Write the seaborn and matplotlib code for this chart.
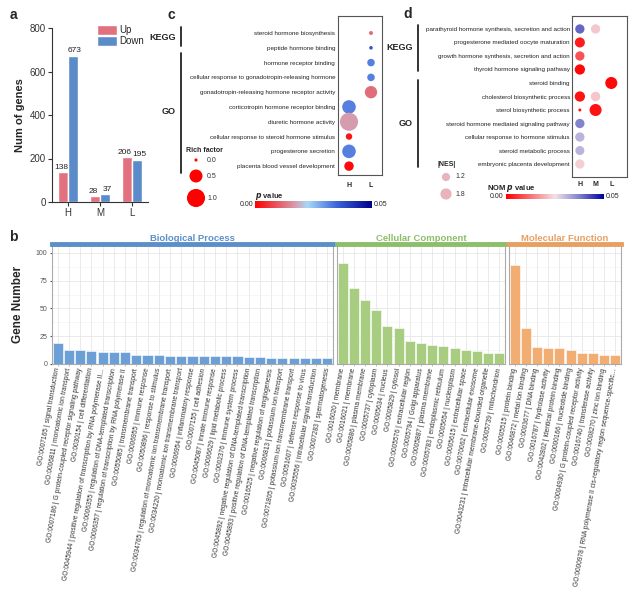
import numpy as np
import pandas as pd
import matplotlib
matplotlib.use("Agg")
import matplotlib.pyplot as plt
import seaborn as sns
from matplotlib.colors import LinearSegmentedColormap, Normalize

W, H = 637, 616

# ---------------- data ----------------
groups = ["H", "M", "L"]
up_counts = [138, 28, 206]
down_counts = [673, 37, 195]

bp_terms = [
    "GO:0007165 | signal transduction",
    "GO:0006811 | monoatomic ion transport",
    "GO:0007186 | G protein-coupled receptor signaling pathway",
    "GO:0030154 | cell differentiation",
    "GO:0045944 | positive regulation of transcription by RNA polymerase II...",
    "GO:0006355 | regulation of DNA-templated transcription",
    "GO:0006357 | regulation of transcription by RNA polymerase II",
    "GO:0055085 | transmembrane transport",
    "GO:0006955 | immune response",
    "GO:0050896 | response to stimulus",
    "GO:0034765 | regulation of monoatomic ion transmembrane transport",
    "GO:0034220 | monoatomic ion transmembrane transport",
    "GO:0006954 | inflammatory response",
    "GO:0007155 | cell adhesion",
    "GO:0045087 | innate immune response",
    "GO:0006629 | lipid metabolic process",
    "GO:0002376 | immune system process",
    "GO:0045892 | negative regulation of DNA-templated transcription",
    "GO:0045893 | positive regulation of DNA-templated transcription",
    "GO:0016525 | negative regulation of angiogenesis",
    "GO:0006813 | potassium ion transport",
    "GO:0071805 | potassium ion transmembrane transport",
    "GO:0051607 | defense response to virus",
    "GO:0035556 | intracellular signal transduction",
    "GO:0007283 | spermatogenesis",
]
bp_counts = [19, 13, 13, 12, 11, 11, 11, 8, 8, 8, 7, 7, 7, 7, 7, 7, 7, 6, 6, 5, 5, 5, 5, 5, 5]

cc_terms = [
    "GO:0016020 | membrane",
    "GO:0016021 | membrane",
    "GO:0005886 | plasma membrane",
    "GO:0005737 | cytoplasm",
    "GO:0005634 | nucleus",
    "GO:0005829 | cytosol",
    "GO:0005576 | extracellular region",
    "GO:0005794 | Golgi apparatus",
    "GO:0005887 | plasma membrane",
    "GO:0005783 | endoplasmic reticulum",
    "GO:0005654 | nucleoplasm",
    "GO:0005615 | extracellular space",
    "GO:0070062 | extracellular exosome",
    "GO:0043231 | intracellular membrane-bounded organelle",
    "GO:0005739 | mitochondrion",
]
cc_counts = [91, 68, 58, 49, 34, 32, 21, 19, 17, 16, 14, 13, 12, 10, 10]

mf_terms = [
    "GO:0005515 | protein binding",
    "GO:0046872 | metal ion binding",
    "GO:0003677 | DNA binding",
    "GO:0016787 | hydrolase activity",
    "GO:0042802 | identical protein binding",
    "GO:0000166 | nucleotide binding",
    "GO:0004930 | G protein-coupled receptor activity",
    "GO:0016740 | transferase activity",
    "GO:0008270 | zinc ion binding",
    "GO:0000978 | RNA polymerase II cis-regulatory region sequence-specific...",
]
mf_counts = [89, 32, 15, 14, 14, 13, 10, 10, 8, 8]

# panel c: enrichment dot plot
c_cols = ["H", "L"]
c_terms = [
    "steroid hormone biosynthesis",
    "peptide hormone binding",
    "hormone receptor binding",
    "cellular response to gonadotropin-releasing hormone",
    "gonadotropin-releasing hormone receptor activity",
    "corticotropin hormone receptor binding",
    "diuretic hormone activity",
    "cellular response to steroid hormone stimulus",
    "progesterone secretion",
    "placenta blood vessel development",
]
c_point_col = ["L", "L", "L", "L", "L", "H", "H", "H", "H", "H"]
c_rich = [0.02, 0.01, 0.15, 0.15, 0.45, 0.55, 1.0, 0.1, 0.55, 0.25]
c_p = [0.012, 0.037, 0.032, 0.032, 0.012, 0.032, 0.017, 0.002, 0.032, 0.001]

# panel d: GSEA dot plot
d_cols = ["H", "M", "L"]
d_terms = [
    "parathyroid hormone synthesis, secretion and action",
    "progesterone mediated oocyte maturation",
    "growth hormone synthesis, secretion and action",
    "thyroid hormone signaling pathway",
    "steroid binding",
    "cholesterol biosynthetic process",
    "sterol biosynthetic process",
    "steroid hormone mediated signaling pathway",
    "cellular response to hormone stimulus",
    "steroid metabolic process",
    "embryonic placenta development",
]
d_point_term = [
    "parathyroid hormone synthesis, secretion and action",
    "parathyroid hormone synthesis, secretion and action",
    "progesterone mediated oocyte maturation",
    "growth hormone synthesis, secretion and action",
    "thyroid hormone signaling pathway",
    "steroid binding",
    "cholesterol biosynthetic process",
    "cholesterol biosynthetic process",
    "sterol biosynthetic process",
    "sterol biosynthetic process",
    "steroid hormone mediated signaling pathway",
    "cellular response to hormone stimulus",
    "steroid metabolic process",
    "embryonic placenta development",
]
d_point_col = ["H", "M", "H", "H", "H", "L", "H", "M", "H", "M", "H", "H", "H", "H"]
d_nes = [1.4, 1.4, 1.55, 1.4, 1.6, 2.0, 1.6, 1.45, 0.6, 2.0, 1.4, 1.4, 1.35, 1.4]
d_p = [0.040, 0.022, 0.003, 0.009, 0.001, 0.001, 0.002, 0.022, 0.002, 0.002, 0.037, 0.031, 0.031, 0.023]

# ---------------- style ----------------
sns.set_style("white")
plt.rcParams["font.family"] = ["Liberation Sans", "DejaVu Sans"]

up_color = "#E2707F"
down_color = "#5B8CC9"
bp_color, bp_strip = "#6B9FD6", "#5B8FC9"
cc_color, cc_strip = "#A8CC80", "#8DBE6A"
mf_color, mf_strip = "#F2AE72", "#E8A062"

cmap_c = LinearSegmentedColormap.from_list(
    "pc", [(0, "#FF0000"), (0.35, "#D4A0B2"), (0.45, "#A8D8F8"), (0.7, "#3C64D8"), (1, "#00008B")])
cmap_d = LinearSegmentedColormap.from_list(
    "pd", [(0, "#FF0000"), (0.5, "#F2E2E8"), (0.75, "#8080CC"), (1, "#0000A0")])
p_norm = Normalize(0, 0.05)

c_sizes, c_snorm = (5, 170), (0, 1)
d_sizes, d_snorm = (4.7, 75), (0.6, 2.0)


def size_of(v, sizes, snorm):
    return sizes[0] + (v - snorm[0]) / (snorm[1] - snorm[0]) * (sizes[1] - sizes[0])


fig = plt.figure(figsize=(W / 100, H / 100), dpi=100)


def px_axes(x0, y0, x1, y1):
    return fig.add_axes([x0 / W, 1 - y1 / H, (x1 - x0) / W, (y1 - y0) / H])


# overlay in pixel coordinates for letters, brackets, legends
ov = fig.add_axes([0, 0, 1, 1])
ov.set_xlim(0, W)
ov.set_ylim(H, 0)
ov.axis("off")

# ---------------- panel a ----------------
ax_a = px_axes(52, 28, 148, 202)
df_a = pd.DataFrame({
    "group": groups * 2,
    "dir": ["Up"] * 3 + ["Down"] * 3,
    "count": up_counts + down_counts,
})
sns.barplot(data=df_a, x="group", y="count", hue="dir", order=groups,
            hue_order=["Up", "Down"], palette=[up_color, down_color],
            width=0.64, saturation=1, ax=ax_a)
for cont, dx in zip(ax_a.containers, [-1.3, 1.3]):
    for ann in ax_a.bar_label(cont, fontsize=6, padding=1, color="#222222"):
        ann.xyann = (dx, 1)
ax_a.set_ylim(0, 800)
ax_a.set_yticks(range(0, 801, 200))
ax_a.set_xlim(-0.5, 2.5)
ax_a.set_xlabel("")
ax_a.set_ylabel("Num of genes", fontsize=8, fontweight="bold", labelpad=3)
ax_a.tick_params(labelsize=7, length=3, width=0.8, direction="out", pad=1.5,
                 left=True, bottom=True, colors="#333333")
for s in ["top", "right"]:
    ax_a.spines[s].set_visible(False)
for s in ["left", "bottom"]:
    ax_a.spines[s].set_color("#333333")
    ax_a.spines[s].set_linewidth(0.8)
ax_a.legend(loc="upper right", frameon=False, fontsize=7, bbox_to_anchor=(1.0, 1.04),
            handlelength=2.0, handleheight=1.2, labelspacing=0.1, borderaxespad=0,
            handletextpad=0.25)

# ---------------- panel b ----------------
facets = [
    ("Biological Process", bp_terms, bp_counts, bp_color, bp_strip, 52, 333),
    ("Cellular Component", cc_terms, cc_counts, cc_color, cc_strip, 337, 505),
    ("Molecular Function", mf_terms, mf_counts, mf_color, mf_strip, 509, 621),
]
for i, (title, terms, counts, col, strip, x0, x1) in enumerate(facets):
    ax = px_axes(x0, 244, x1, 364)
    sns.barplot(x=terms, y=counts, color=col, width=0.9, saturation=1,
                edgecolor="white", linewidth=0.4, ax=ax)
    ax.set_axisbelow(True)
    ax.set_xlim(-0.5, len(terms) - 0.5)
    ax.set_ylim(0, 108)
    ax.set_yticks([0, 25, 50, 75, 100])
    ax.set_yticks([12.5, 37.5, 62.5, 87.5], minor=True)
    ax.grid(True, which="major", color="#E6E6E6", lw=0.6)
    ax.grid(True, which="minor", axis="y", color="#F0F0F0", lw=0.4)
    ax.set_xticks(range(len(terms)))
    ax.set_xticklabels(terms, rotation=80, ha="right", va="center",
                       rotation_mode="anchor", fontsize=4.8, color="#333333")
    ax.tick_params(axis="x", length=1.5, width=0.4, color="#888888", pad=1.5, bottom=True)
    ax.tick_params(axis="y", which="both", length=0)
    if i == 0:
        ax.tick_params(axis="y", labelsize=5, colors="#555555", pad=2, length=1.5, left=True)
        ax.set_ylabel("Gene Number", fontsize=8.5, fontweight="bold", labelpad=8)
    else:
        ax.set_yticklabels([])
        ax.set_ylabel("")
    for s in ["left", "right", "bottom"]:
        ax.spines[s].set_color("#AAAAAA")
        ax.spines[s].set_linewidth(0.8)
    ax.spines["top"].set_color(strip)
    ax.spines["top"].set_linewidth(3.5)
    ax.set_title(title, color=strip, fontsize=6.8, fontweight="bold", pad=2.5)

# ---------------- panel c ----------------
ax_c = px_axes(338, 16, 382, 175)
df_c = pd.DataFrame({
    "x": [c_cols.index(c) for c in c_point_col],
    "y": list(range(len(c_terms))),
    "rich": c_rich,
    "p": c_p,
})
sns.scatterplot(data=df_c, x="x", y="y", hue="p", size="rich", palette=cmap_c,
                hue_norm=p_norm, sizes=c_sizes, size_norm=c_snorm, legend=False,
                edgecolor="none", ax=ax_c)
ax_c.set_xlim(-0.5, 1.5)
ax_c.set_ylim(9.6, -1.15)
ax_c.set_yticks(range(len(c_terms)))
ax_c.set_yticklabels(c_terms, fontsize=4.5, color="#222222")
ax_c.set_xticks(range(len(c_cols)))
ax_c.set_xticklabels(c_cols, fontsize=5, fontweight="bold")
ax_c.tick_params(axis="y", length=0, pad=2)
ax_c.tick_params(axis="x", length=0, pad=5)
ax_c.set_xlabel("")
ax_c.set_ylabel("")
for s in ax_c.spines.values():
    s.set_color("#555555")
    s.set_linewidth(0.8)

cax_c = px_axes(255, 201, 372, 208)
fig.colorbar(plt.cm.ScalarMappable(norm=p_norm, cmap=cmap_c), cax=cax_c, orientation="horizontal")
cax_c.set_xticks([])
cax_c.axis("off")
ov.text(253, 204.5, "0.00", fontsize=5, ha="right", va="center")
ov.text(374, 204.5, "0.05", fontsize=5, ha="left", va="center")
ov.text(255, 196, r"$\mathbfit{p}$ value", fontsize=5.5, fontweight="bold", ha="left", va="center")

# KEGG / GO brackets for c
ov.plot([181, 181], [27, 46], color="#222222", lw=1.3)
ov.plot([181, 181], [53, 173], color="#222222", lw=1.3)
ov.text(176, 37, "KEGG", fontsize=6.5, fontweight="bold", ha="right", va="center")
ov.text(176, 112, "GO", fontsize=6.5, fontweight="bold", ha="right", va="center")

# size legend c
ov.text(204, 150, "Rich factor", fontsize=5, fontweight="bold", ha="center", va="center")
for v, yy in zip([0.0, 0.5, 1.0], [160, 176, 198]):
    ov.scatter([196], [yy], s=size_of(v, c_sizes, c_snorm), color="#FF0000", edgecolor="none")
    ov.text(207, yy, f"{v:.1f}", fontsize=5, ha="left", va="center", color="#333333")

# ---------------- panel d ----------------
ax_d = px_axes(572, 16, 627, 177)
df_d = pd.DataFrame({
    "x": [d_cols.index(c) for c in d_point_col],
    "y": [d_terms.index(t) for t in d_point_term],
    "nes": d_nes,
    "p": d_p,
})
sns.scatterplot(data=df_d, x="x", y="y", hue="p", size="nes", palette=cmap_d,
                hue_norm=p_norm, sizes=d_sizes, size_norm=d_snorm, legend=False,
                edgecolor="none", ax=ax_d)
ax_d.set_xlim(-0.5, 3.0)
ax_d.set_ylim(len(d_terms) - 1 + 0.96, -0.96)
ax_d.set_yticks(range(len(d_terms)))
ax_d.set_yticklabels(d_terms, fontsize=4.5, color="#222222")
ax_d.set_xticks(range(len(d_cols)))
ax_d.set_xticklabels(d_cols, fontsize=5, fontweight="bold")
ax_d.tick_params(axis="y", length=0, pad=1.5)
ax_d.tick_params(axis="x", length=0, pad=3)
ax_d.set_xlabel("")
ax_d.set_ylabel("")
for s in ax_d.spines.values():
    s.set_color("#555555")
    s.set_linewidth(0.8)

cax_d = px_axes(506, 194, 604, 199)
fig.colorbar(plt.cm.ScalarMappable(norm=p_norm, cmap=cmap_d), cax=cax_d, orientation="horizontal")
cax_d.set_xticks([])
cax_d.axis("off")
ov.text(503, 196.5, "0.00", fontsize=5, ha="right", va="center")
ov.text(606, 196.5, "0.05", fontsize=5, ha="left", va="center")
ov.text(487, 188, r"NOM $\mathbfit{p}$ value", fontsize=5.5, fontweight="bold", ha="left", va="center")

ov.plot([418, 418], [25, 71], color="#222222", lw=1.3)
ov.plot([418, 418], [80, 167], color="#222222", lw=1.3)
ov.text(413, 48, "KEGG", fontsize=6.5, fontweight="bold", ha="right", va="center")
ov.text(413, 123, "GO", fontsize=6.5, fontweight="bold", ha="right", va="center")

ov.text(447, 164, "|NES|", fontsize=5, fontweight="bold", ha="center", va="center")
for v, yy in zip([1.2, 1.8], [177, 194]):
    ov.scatter([446], [yy], s=size_of(v, d_sizes, d_snorm), color="#E8B4BC", edgecolor="none")
    ov.text(455, yy, f"{v:.1f}", fontsize=5, ha="left", va="center", color="#333333")

# ---------------- panel letters ----------------
for letter, (lx, ly) in zip("abcd", [(13, 15), (13, 237), (171, 15), (408, 14)]):
    ov.text(lx, ly, letter, fontsize=10, fontweight="bold", ha="center", va="center")

fig.savefig("out.png", dpi=100)
